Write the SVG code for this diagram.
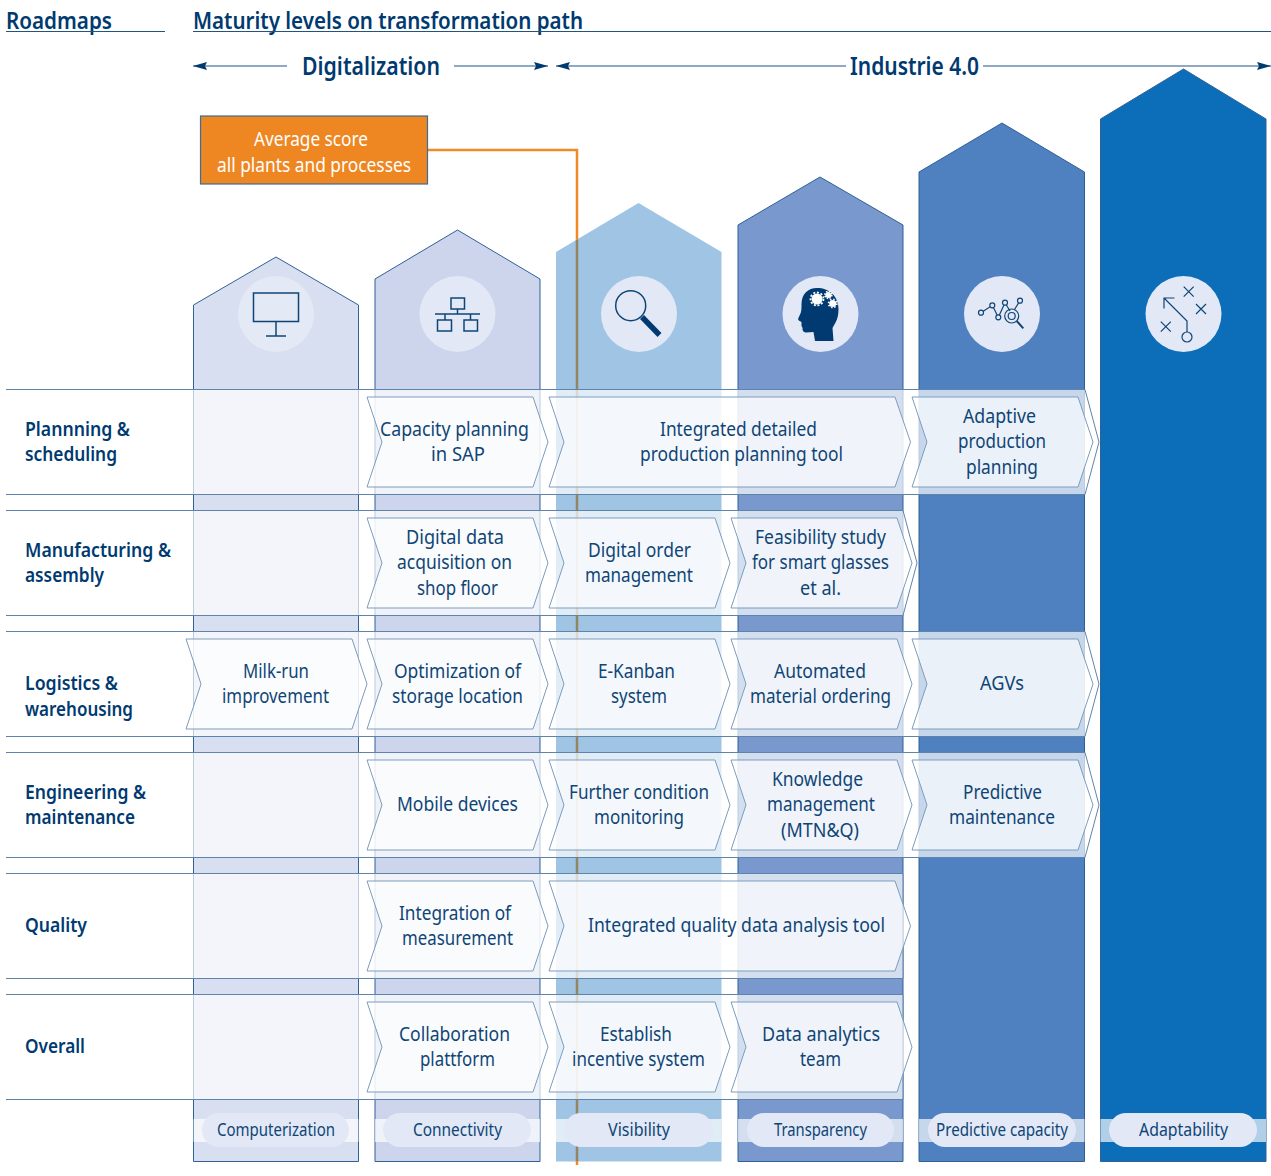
<svg xmlns="http://www.w3.org/2000/svg" width="1271" height="1176" viewBox="0 0 1271 1176">
<style>
text{font-family:"Noto Sans","Open Sans","Liberation Sans",sans-serif;fill:#0f4576;font-size:20px}
.h{font-size:24px;font-weight:600;fill:#003a70}
.r{font-weight:600;fill:#003a70;font-size:20px}
.p{font-size:18px}
.w{fill:#fff}
.house{stroke:#2f6196;stroke-width:1}
.band{fill:#fff;fill-opacity:.68;stroke:#5f84ab;stroke-width:1}
.chev{fill:#fff;fill-opacity:.65;stroke:#7f9dbd;stroke-width:1}
.pill{fill:#e2e8f5}
.disc{fill:#e2e8f5}
.ic{fill:none;stroke:#0f4576;stroke-width:1.5}
.rule{fill:none;stroke:#1f5584;stroke-width:1.2}
.arr{fill:none;stroke:#1f5584;stroke-width:1.2}
</style>
<defs>
<marker id="ah" viewBox="0 0 14 8" markerWidth="14" markerHeight="8" markerUnits="userSpaceOnUse" refX="14" refY="4" orient="auto-start-reverse"><path d="M0 0L14 4L0 8L2 4Z" fill="#003a70"/></marker>
</defs>

<g id="headers">
<text class="h" x="6" y="29" textLength="106" lengthAdjust="spacingAndGlyphs">Roadmaps</text>
<text class="h" x="193" y="29" textLength="390" lengthAdjust="spacingAndGlyphs">Maturity levels on transformation path</text>
<path class="rule" d="M6 31.5H165M193 31.5H1271"/>
<text class="h" x="302" y="74.500" style="font-size:25px" textLength="138" lengthAdjust="spacingAndGlyphs">Digitalization</text>
<text class="h" x="850" y="74.500" style="font-size:25px" textLength="129" lengthAdjust="spacingAndGlyphs">Industrie 4.0</text>
</g>

<g id="col-computerization">
<path class="house" fill="#d8dff0" d="M193.500 1161.500V305L276 257L358.500 305V1161.500Z"/>
<circle class="disc" cx="276" cy="314" r="38" style="fill:#e3e9f5"/>
<path class="ic" d="M253.500 293H298.500V321.500H253.500ZM276 321.500V336M266 336H286"/>
</g>
<g id="col-connectivity">
<path class="house" fill="#ccd5ec" d="M375 1161.500V279L457.500 230L540 279V1161.500Z"/>
<circle class="disc" cx="457.500" cy="314" r="38"/>
<path class="ic" d="M451 298H464.500V309H451ZM457.500 309V314M435 314H480M445 314V320M470.500 314V320M437.500 320H451.500V331H437.500ZM464 320H477.500V331H464Z"/>
</g>
<g id="col-visibility">
<path class="house" fill="#9fc4e4" stroke-opacity="0" d="M556 1161.500V252L638.500 203L721.500 252V1161.500Z"/>
<circle class="disc" cx="639" cy="314" r="38"/>
<circle class="ic" cx="630.700" cy="305.700" r="15"/>
<path d="M642 317L659.500 335" fill="none" stroke="#003a70" stroke-width="5.500"/>
</g>
<g id="col-transparency">
<path class="house" fill="#7898ce" d="M738 1161.500V225L820 177L903 225V1161.500Z"/>
<circle class="disc" cx="820.500" cy="314" r="38"/>
<path fill="#003a70" d="M815 341H833.500L832.500 328C836 322 838.500 318 838.500 309C838.500 296 829 288 817 288C808 288 801.500 294 801.500 304C801.500 309 801.500 312 800 314.500L798 319C798.500 321 800.500 321 801.500 322L801.500 326C802 327 803 328 802.500 329C802.500 331 804 332.500 806 332.500L813.500 332Z"/>
<g fill="#fff" stroke="#fff"><circle cx="817" cy="299" r="5.500" stroke="none"/><circle cx="817" cy="299" r="6.500" fill="none" stroke-width="1.800" stroke-dasharray="2 1.720"/><circle cx="828.300" cy="295" r="3" stroke="none"/><circle cx="828.300" cy="295" r="3.500" fill="none" stroke-width="1.500" stroke-dasharray="1.500 1.250"/><circle cx="832.700" cy="303.500" r="3.500" stroke="none"/><circle cx="832.700" cy="303.500" r="4.200" fill="none" stroke-width="1.600" stroke-dasharray="1.500 1.800"/></g>
</g>
<g id="col-predictive">
<path class="house" fill="#4f81c0" d="M919 1161.500V172L1002 123L1084.500 172V1161.500Z"/>
<circle class="disc" cx="1002" cy="314" r="38"/>
<g class="ic" style="stroke-width:1.200"><path d="M981 312.700L992.300 305.300L998.300 317.300L1005 302.700L1010 311M1014.500 309.500L1020 300.700"/><circle cx="981" cy="312.700" r="2.500" fill="#e2e8f5"/><circle cx="992.300" cy="305.300" r="2.500" fill="#e2e8f5"/><circle cx="998.300" cy="317.300" r="2.500" fill="#e2e8f5"/><circle cx="1005" cy="302.700" r="2.500" fill="#e2e8f5"/><circle cx="1020" cy="300.700" r="2.500" fill="#e2e8f5"/><circle cx="1011.700" cy="316" r="7"/><circle cx="1011.700" cy="316" r="3.500"/><path d="M1016.700 321L1023.300 328.300" style="stroke-width:2"/></g>
</g>
<g id="col-adaptability">
<path class="house" fill="#0c6eb9" d="M1100.500 1161.500V119L1183.500 69L1266 119V1161.500Z"/>
<circle class="disc" cx="1183.500" cy="314" r="38"/>
<g class="ic" style="stroke-width:1.200"><path d="M1174.500 298H1164V308.500M1164 298L1187 321V332"/><circle cx="1187" cy="337" r="5"/><path d="M1183.700 286.700L1193.700 296.700M1193.700 286.700L1183.700 296.700M1196 304L1206 314M1206 304L1196 314M1160.800 321.700L1170.800 331.700M1170.800 321.700L1160.800 331.700"/></g>
</g>

<g id="connectors">
<path d="M427 150H577V239.500" fill="none" stroke="#f08a24" stroke-width="2.500"/>
<path d="M577 239.500V1161" fill="none" stroke="#94845f" stroke-width="2.500"/>
<path d="M577 1161V1165" fill="none" stroke="#f08a24" stroke-width="2.500"/>
<path class="arr" marker-start="url(#ah)" d="M193 66H287"/>
<path class="arr" marker-end="url(#ah)" d="M454 66H548"/>
<path class="arr" marker-start="url(#ah)" d="M556 66H846"/>
<path class="arr" marker-end="url(#ah)" d="M983 66H1271"/>
</g>

<g id="bands">
<path class="band" d="M6 389.500H1085L1099 442L1085 494.500H6"/>
<path class="band" d="M6 510.500H903L917 563L903 615.500H6"/>
<path class="band" d="M6 631.500H1085L1099 684L1085 736.500H6"/>
<path class="band" d="M6 752.500H1085L1099 805L1085 857.500H6"/>
<path class="band" d="M6 873.500H903V978.500H6"/>
<path class="band" d="M6 994.500H903V1099.500H6"/>
</g>

<g id="row-planning">
<text class="r" x="25" y="436" textLength="105" lengthAdjust="spacingAndGlyphs">Plannning &amp;</text>
<text class="r" x="25" y="461" textLength="92" lengthAdjust="spacingAndGlyphs">scheduling</text>
</g>
<g id="row-manufacturing">
<text class="r" x="25" y="557" textLength="146" lengthAdjust="spacingAndGlyphs">Manufacturing &amp;</text>
<text class="r" x="25" y="582" textLength="79" lengthAdjust="spacingAndGlyphs">assembly</text>
</g>
<g id="row-logistics">
<text class="r" x="25" y="690" textLength="93" lengthAdjust="spacingAndGlyphs">Logistics &amp;</text>
<text class="r" x="25" y="716" textLength="108" lengthAdjust="spacingAndGlyphs">warehousing</text>
</g>
<g id="row-engineering">
<text class="r" x="25" y="799" textLength="121" lengthAdjust="spacingAndGlyphs">Engineering &amp;</text>
<text class="r" x="25" y="824" textLength="110" lengthAdjust="spacingAndGlyphs">maintenance</text>
</g>
<g id="row-quality"><text class="r" x="25" y="932" textLength="62" lengthAdjust="spacingAndGlyphs">Quality</text></g>
<g id="row-overall"><text class="r" x="25" y="1053" textLength="60" lengthAdjust="spacingAndGlyphs">Overall</text></g>

<g id="n-capacity"><path class="chev" d="M367 397H533L548 442L533 487H367L382 442Z"/>
<text x="380" y="436" textLength="149" lengthAdjust="spacingAndGlyphs">Capacity planning</text>
<text x="431" y="461" textLength="54" lengthAdjust="spacingAndGlyphs">in SAP</text></g>
<g id="n-detailed"><path class="chev" d="M549 397H895L910.500 442L895 487H549L564 442Z"/>
<text x="660" y="436" textLength="157" lengthAdjust="spacingAndGlyphs">Integrated detailed</text>
<text x="640" y="461" textLength="203" lengthAdjust="spacingAndGlyphs">production planning tool</text></g>
<g id="n-adaptive"><path class="chev" d="M912 397H1078L1093 442L1078 487H912L927 442Z"/>
<text x="963" y="423" textLength="73" lengthAdjust="spacingAndGlyphs">Adaptive</text>
<text x="958" y="448" textLength="88" lengthAdjust="spacingAndGlyphs">production</text>
<text x="966" y="474" textLength="72" lengthAdjust="spacingAndGlyphs">planning</text></g>

<g id="n-digitaldata"><path class="chev" d="M367 518H533L548 563L533 608H367L382 563Z"/>
<text x="406" y="544" textLength="98" lengthAdjust="spacingAndGlyphs">Digital data</text>
<text x="397" y="569" textLength="115" lengthAdjust="spacingAndGlyphs">acquisition on</text>
<text x="417" y="595" textLength="81" lengthAdjust="spacingAndGlyphs">shop floor</text></g>
<g id="n-order"><path class="chev" d="M549 518H715L730 563L715 608H549L564 563Z"/>
<text x="588" y="557" textLength="103" lengthAdjust="spacingAndGlyphs">Digital order</text>
<text x="585" y="582" textLength="108" lengthAdjust="spacingAndGlyphs">management</text></g>
<g id="n-feasibility"><path class="chev" d="M731 518H897L912 563L897 608H731L746 563Z"/>
<text x="755" y="544" textLength="131" lengthAdjust="spacingAndGlyphs">Feasibility study</text>
<text x="752" y="569" textLength="137" lengthAdjust="spacingAndGlyphs">for smart glasses</text>
<text x="800" y="595" textLength="41" lengthAdjust="spacingAndGlyphs">et al.</text></g>

<g id="n-milkrun"><path class="chev" d="M186 639H352L367 684L352 729H186L201 684Z"/>
<text x="243" y="678" textLength="66" lengthAdjust="spacingAndGlyphs">Milk-run</text>
<text x="222" y="703" textLength="107" lengthAdjust="spacingAndGlyphs">improvement</text></g>
<g id="n-optimization"><path class="chev" d="M367 639H533L548 684L533 729H367L382 684Z"/>
<text x="394" y="678" textLength="127" lengthAdjust="spacingAndGlyphs">Optimization of</text>
<text x="392" y="703" textLength="131" lengthAdjust="spacingAndGlyphs">storage location</text></g>
<g id="n-ekanban"><path class="chev" d="M549 639H715L730 684L715 729H549L564 684Z"/>
<text x="598" y="678" textLength="77" lengthAdjust="spacingAndGlyphs">E-Kanban</text>
<text x="611" y="703" textLength="56" lengthAdjust="spacingAndGlyphs">system</text></g>
<g id="n-automated"><path class="chev" d="M731 639H897L912 684L897 729H731L746 684Z"/>
<text x="774" y="678" textLength="92" lengthAdjust="spacingAndGlyphs">Automated</text>
<text x="750" y="703" textLength="141" lengthAdjust="spacingAndGlyphs">material ordering</text></g>
<g id="n-agvs"><path class="chev" d="M912 639H1078L1093 684L1078 729H912L927 684Z"/>
<text x="980" y="690" textLength="44" lengthAdjust="spacingAndGlyphs">AGVs</text></g>

<g id="n-mobile"><path class="chev" d="M367 760H533L548 805L533 850H367L382 805Z"/>
<text x="397" y="811" textLength="121" lengthAdjust="spacingAndGlyphs">Mobile devices</text></g>
<g id="n-condition"><path class="chev" d="M549 760H715L730 805L715 850H549L564 805Z"/>
<text x="569" y="799" textLength="140" lengthAdjust="spacingAndGlyphs">Further condition</text>
<text x="594" y="824" textLength="90" lengthAdjust="spacingAndGlyphs">monitoring</text></g>
<g id="n-knowledge"><path class="chev" d="M731 760H897L912 805L897 850H731L746 805Z"/>
<text x="772" y="786" textLength="91" lengthAdjust="spacingAndGlyphs">Knowledge</text>
<text x="767" y="811" textLength="108" lengthAdjust="spacingAndGlyphs">management</text>
<text x="781" y="837" textLength="78" lengthAdjust="spacingAndGlyphs">(MTN&amp;Q)</text></g>
<g id="n-predictive"><path class="chev" d="M912 760H1078L1093 805L1078 850H912L927 805Z"/>
<text x="963" y="799" textLength="79" lengthAdjust="spacingAndGlyphs">Predictive</text>
<text x="949" y="824" textLength="106" lengthAdjust="spacingAndGlyphs">maintenance</text></g>

<g id="n-integration"><path class="chev" d="M367 881H533L548 926L533 971H367L382 926Z"/>
<text x="399" y="920" textLength="112" lengthAdjust="spacingAndGlyphs">Integration of</text>
<text x="402" y="945" textLength="111" lengthAdjust="spacingAndGlyphs">measurement</text></g>
<g id="n-qualitytool"><path class="chev" d="M549 881H895L910.500 926L895 971H549L564 926Z"/>
<text x="588" y="932" textLength="297" lengthAdjust="spacingAndGlyphs">Integrated quality data analysis tool</text></g>

<g id="n-collaboration"><path class="chev" d="M367 1002H533L548 1047L533 1092H367L382 1047Z"/>
<text x="399" y="1041" textLength="111" lengthAdjust="spacingAndGlyphs">Collaboration</text>
<text x="420" y="1066" textLength="75" lengthAdjust="spacingAndGlyphs">plattform</text></g>
<g id="n-incentive"><path class="chev" d="M549 1002H715L730 1047L715 1092H549L564 1047Z"/>
<text x="600" y="1041" textLength="72" lengthAdjust="spacingAndGlyphs">Establish</text>
<text x="572" y="1066" textLength="133" lengthAdjust="spacingAndGlyphs">incentive system</text></g>
<g id="n-analytics"><path class="chev" d="M731 1002H897L912 1047L897 1092H731L746 1047Z"/>
<text x="762" y="1041" textLength="118" lengthAdjust="spacingAndGlyphs">Data analytics</text>
<text x="800" y="1066" textLength="41" lengthAdjust="spacingAndGlyphs">team</text></g>

<g id="strip"><path fill="#fff" fill-opacity=".68" d="M193.500 1119H358.500V1142H193.500ZM375 1119H540V1142H375ZM556 1119H721.500V1142H556ZM738 1119H903V1142H738ZM919 1119H1084.500V1142H919ZM1100.500 1119H1266V1142H1100.500Z"/></g>
<g id="level-computerization"><rect class="pill" x="202" y="1113" width="147" height="34" rx="17"/><text class="p" x="217" y="1136" textLength="118" lengthAdjust="spacingAndGlyphs">Computerization</text></g>
<g id="level-connectivity"><rect class="pill" x="383" y="1113" width="148" height="34" rx="17"/><text class="p" x="413" y="1136" textLength="89" lengthAdjust="spacingAndGlyphs">Connectivity</text></g>
<g id="level-visibility"><rect class="pill" x="564" y="1113" width="149" height="34" rx="17"/><text class="p" x="608" y="1136" textLength="62" lengthAdjust="spacingAndGlyphs">Visibility</text></g>
<g id="level-transparency"><rect class="pill" x="747" y="1113" width="147" height="34" rx="17"/><text class="p" x="774" y="1136" textLength="93" lengthAdjust="spacingAndGlyphs">Transparency</text></g>
<g id="level-predictive"><rect class="pill" x="928" y="1113" width="148" height="34" rx="17"/><text class="p" x="936" y="1136" textLength="132" lengthAdjust="spacingAndGlyphs">Predictive capacity</text></g>
<g id="level-adaptability"><rect class="pill" x="1109" y="1113" width="148" height="34" rx="17"/><text class="p" x="1139" y="1136" textLength="89" lengthAdjust="spacingAndGlyphs">Adaptability</text></g>

<g id="average-score">
<rect x="200.500" y="116" width="227" height="68" fill="#ee8722" stroke="#3c6c97" stroke-width="1.200"/>
<text class="w" x="254" y="146" textLength="114" lengthAdjust="spacingAndGlyphs">Average score</text>
<text class="w" x="217" y="172" textLength="194" lengthAdjust="spacingAndGlyphs">all plants and processes</text>
</g>
</svg>
